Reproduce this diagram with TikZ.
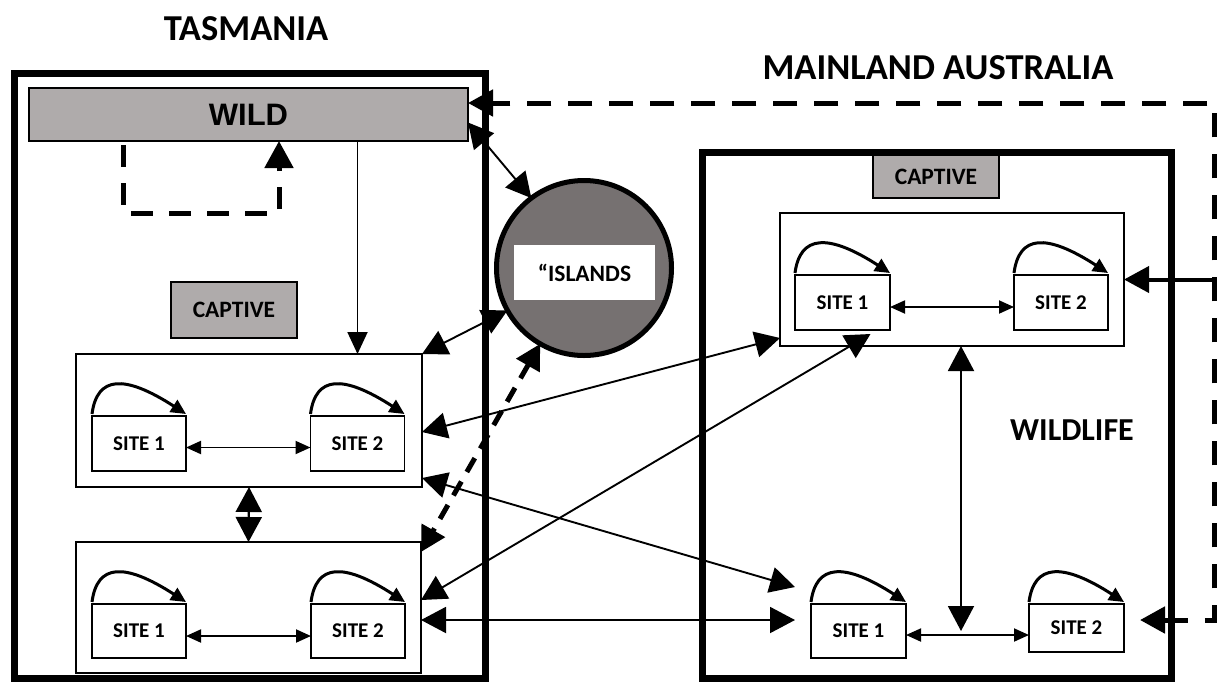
\documentclass[tikz,border=0pt]{standalone}
\usepackage{fontspec}
\setmainfont{Carlito}
\newfontfamily\arialfont{Liberation Sans}
\usetikzlibrary{arrows.meta,calc}
\definecolor{boxgray}{HTML}{AFABAB}
\definecolor{islandgray}{HTML}{767171}
\tikzset{
  bigtip/.tip={Triangle[length=25pt,width=26pt]},
  midtip/.tip={Triangle[length=22pt,width=20pt]},
  smalltip/.tip={Triangle[length=15pt,width=13pt]},
  looptip/.tip={Triangle[length=15pt,width=14pt]},
}
\begin{document}
\begin{tikzpicture}[x=1pt,y=-1pt,
  every node/.style={inner sep=0pt,outer sep=0pt},
  region/.style={draw,line width=7pt},
  group/.style={draw,line width=1.7pt},
  graybox/.style={draw,line width=1.7pt,fill=boxgray,font=\bfseries\fontsize{23.5}{26}\selectfont},
  site/.style={draw,line width=1.7pt,minimum width=94pt,minimum height=55pt,font=\bfseries\fontsize{21}{24}\selectfont},
  title/.style={font=\bfseries\fontsize{36.5}{40}\selectfont},
  link/.style={line width=1.9pt},
  loopback/.style={line width=3pt,-{looptip}},
  dashlink/.style={line width=5pt,dash pattern=on 16pt off 11pt},
  bracket/.style={line width=5pt,dash pattern=on 24pt off 17pt,miter limit=10},
]
\useasboundingbox (0,0) rectangle (1217,681);

% headings
\node[title] (tastitle) at (246,29) {TASMANIA};
\node[title] (maintitle) at (938,68) {MAINLAND AUSTRALIA};

% the two regions
\node[region,minimum width=471pt,minimum height=605pt] (tas) at (249.5,375.5) {};
\node[region,minimum width=469pt,minimum height=526pt] (main) at (936.5,415) {};

% Tasmania: wild population
\node[graybox,minimum width=439pt,minimum height=53pt,font=\arialfont\bfseries\fontsize{31}{34}\selectfont] (wild) at (248.5,114.5) {\raisebox{-5.5pt}{WILD}};
\draw[line width=5pt,dash pattern=on 22pt off 16pt,-{Triangle[length=27pt,width=28pt]}]
  ([xshift=-125.5pt,yshift=-4pt]wild.south) -- ++(0,68) -| ([xshift=30.5pt]wild.south);

% Tasmania: captive sites
\node[graybox,minimum width=126pt,minimum height=56pt] (capL) at (234,310) {CAPTIVE};
\node[group,minimum width=346pt,minimum height=133pt] (fa) at (249,420.5) {};
\node[site] (a1) at (139,443.5) {SITE 1};
\node[site] (a2) at (357.5,443.5) {SITE 2};
\node[group,minimum width=345pt,minimum height=131pt] (fb) at (248.5,607.5) {};
\node[site,minimum height=54pt] (b1) at (139,631) {SITE 1};
\node[site,minimum height=54pt] (b2) at (358,631) {SITE 2};

% islands
\node[circle,draw,line width=5pt,fill=islandgray,minimum size=175pt] (isl) at (584,268) {};
\node[fill=white,minimum width=141pt,minimum height=55pt,font=\bfseries\fontsize{23.5}{26}\selectfont] (isltxt) at (584.5,272.5) {“ISLANDS};

% mainland
\node[graybox,minimum width=126pt,minimum height=43pt] (capR) at (936,176.5) {CAPTIVE};
\node[group,minimum width=344pt,minimum height=133pt] (fc) at (952,279.5) {};
\node[site,minimum width=95pt] (c1) at (842.5,302.5) {SITE 1};
\node[site] (c2) at (1061,302.5) {SITE 2};
\node[site,minimum width=95pt,minimum height=54pt] (d1) at (858.5,631) {SITE 1};
\node[site,minimum width=95pt,minimum height=48pt] (d2) at (1076.5,628) {SITE 2};
\node[font=\bfseries\fontsize{32}{35}\selectfont] (wildlife) at (1072,430) {WILDLIFE};

% movements within each site
\foreach \s in {a1,a2,b1,b2,c1,c2,d1,d2}
  \draw[loopback] ([yshift=2pt]\s.north west) .. controls +(5,-38) and +(-62,-40) .. ([yshift=2pt]\s.north east);

% movements between paired sites
\draw[link,{smalltip}-{smalltip}] ([yshift=-4pt]a1.east) -- ([yshift=-4pt]a2.west);
\draw[link,{smalltip}-{smalltip}] ([yshift=-5pt]b1.east) -- ([yshift=-5pt]b2.west);
\draw[link,{smalltip}-{smalltip}] ([yshift=-4.5pt]c1.east) -- ([yshift=-4.5pt]c2.west);
\draw[link,{smalltip}-{smalltip}] ([yshift=-4pt]d1.east) -- ([yshift=-4pt]d1.east -| d2.west);
\coordinate (dmid) at (961,631);

% Tasmanian links
\draw[link,-{midtip}] (wild.south -| a2) -- (fa.north -| a2);
\draw[line width=2.2pt,{bigtip}-{bigtip}] (fa.south) -- (fb.north);
\draw[link,{bigtip}-{bigtip}] ([yshift=-8pt]wild.east) -- (isl.127);
\draw[link,{bigtip}-{bigtip}] (isl.209) -- (fa.north east);
\draw[dashlink,{bigtip}-{bigtip}] (isl.240) -- ([yshift=-10pt]fb.north east);

% links across Bass Strait
\draw[link,{bigtip}-{bigtip}] ([yshift=-11.5pt]fa.east) -- ([yshift=8pt]fc.south west);
\draw[link,{bigtip}-{bigtip}] ([yshift=7.5pt]fb.east) -- ([xshift=28pt,yshift=-4pt]c1.south);
\draw[link,{bigtip}-{bigtip}] ([yshift=9pt]fa.south east) -- ([xshift=-16pt,yshift=17pt]d1.north west);
\draw[link,{bigtip}-{bigtip}] ([yshift=-12.5pt]fb.east) -- ([xshift=-16pt,yshift=11pt]d1.west);

% mainland links
\draw[link,{bigtip}-{bigtip}] (fc.south -| dmid) -- (dmid);
\coordinate (redge) at (1217,279.5);
\draw[line width=4pt,-{bigtip}] (redge) -- (fc.east);
\coordinate (dtop) at (1214,103);
\coordinate (dbot) at (1214,620);
\coordinate (dend) at (1140,620);
\draw[bracket,{bigtip}-{bigtip}] (dend) -- (dbot) -- (dtop) -- ([yshift=11.5pt]wild.east);
\end{tikzpicture}
\end{document}
